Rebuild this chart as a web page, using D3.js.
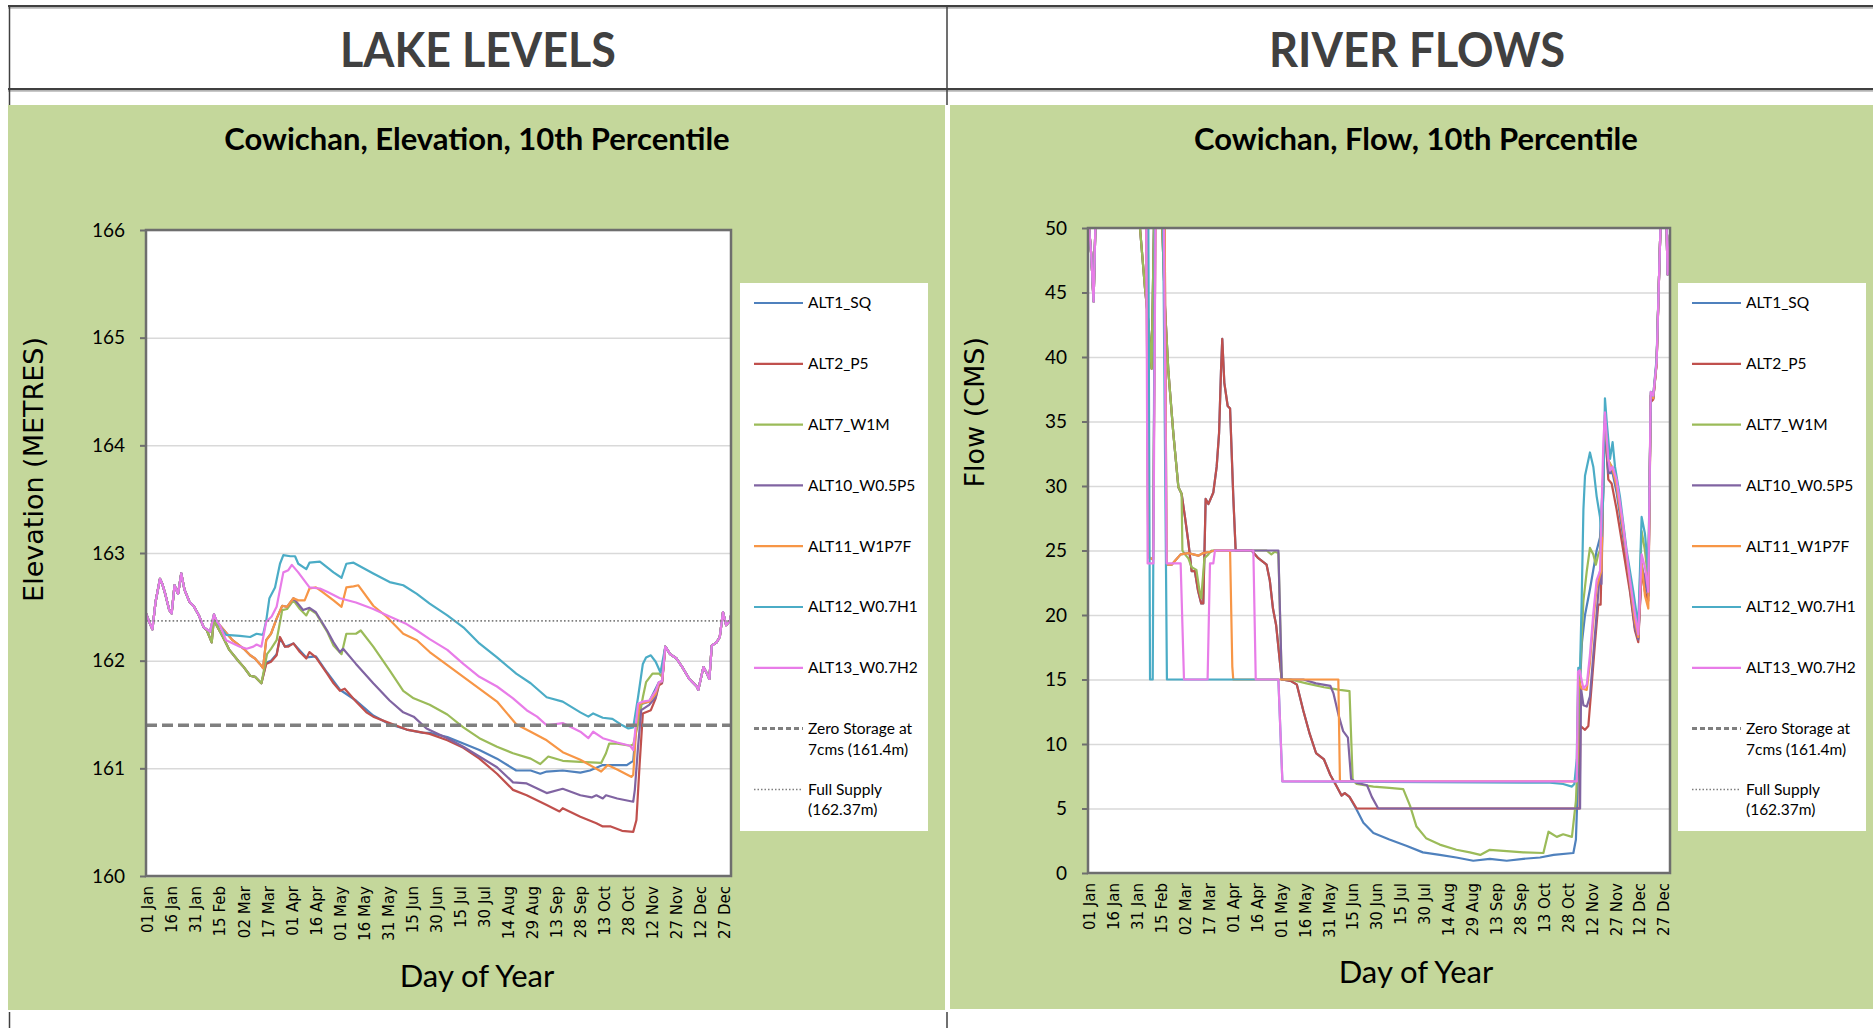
<!DOCTYPE html>
<html>
<head>
<meta charset="utf-8">
<script src="https://cdn.jsdelivr.net/npm/d3@7"></script>
<style>
  body { margin: 0; background: #fff; }
  svg { display: block; }
</style>
</head>
<body>
<div id="chart"></div>
<script>
const chart_width = 1873;
const chart_height = 1028;

// ------------------------------------------------------------------
// Data (day of year, value)
const seriesNames = ['ALT1_SQ', 'ALT2_P5', 'ALT7_W1M', 'ALT10_W0.5P5', 'ALT11_W1P7F', 'ALT12_W0.7H1', 'ALT13_W0.7H2'];
const seriesColors = ['#4f81bd', '#c0504d', '#9bbb59', '#8064a2', '#f79646', '#4bacc6', '#e87ce8'];

const dayTicks = [1, 16, 31, 46, 61, 76, 91, 106, 121, 136, 151, 166, 181, 196, 211, 226, 241, 256, 271, 286, 301, 316, 331, 346, 361];
const dateLabels = ['01 Jan', '16 Jan', '31 Jan', '15 Feb', '02 Mar', '17 Mar', '01 Apr', '16 Apr', '01 May', '16 May', '31 May', '15 Jun',
    '30 Jun', '15 Jul', '30 Jul', '14 Aug', '29 Aug', '13 Sep', '28 Sep', '13 Oct', '28 Oct', '12 Nov', '27 Nov', '12 Dec', '27 Dec'];

const lakeTicks = [160, 161, 162, 163, 164, 165, 166];
const flowTicks = [0, 5, 10, 15, 20, 25, 30, 35, 40, 45, 50];

const zeroStorage = 161.4;
const fullSupply = 162.37;

// lake elevation, shared start and end of the year
const lakeHead = [[0, 162.44], [2, 162.36], [4, 162.29], [6, 162.55], [8.7, 162.76], [10, 162.72], [12, 162.62], [14.5, 162.47], [16, 162.44],
    [17.8, 162.70], [20, 162.62], [22, 162.81], [24, 162.66], [27, 162.55], [30, 162.50], [33, 162.42], [36, 162.31]];
const lakeTail = [[324, 162.13], [327, 162.06], [331, 162.02], [335, 161.93], [339, 161.83], [343.6, 161.76], [344.6, 161.73], [347.8, 161.94],
    [350, 161.88], [351.5, 161.83], [353, 162.14], [356, 162.17], [358, 162.22], [360, 162.45], [362, 162.33], [364.4, 162.37], [365, 162.42]];

const lakeAlt1 = [[38, 162.28], [41, 162.17], [42.4, 162.40], [44, 162.33], [48, 162.22], [52, 162.10], [58, 161.99], [61, 161.94], [65, 161.86],
    [68, 161.85], [72, 161.79], [75, 161.98], [78, 162.00], [81.5, 162.06], [83.6, 162.21], [86.7, 162.13], [92, 162.16], [100, 162.03],
    [106, 162.04], [113, 161.89], [121, 161.73], [131, 161.63], [141.8, 161.49], [152, 161.41], [162.6, 161.36], [173, 161.33], [177, 161.33],
    [188, 161.29], [198, 161.23], [208, 161.17], [219, 161.09], [231, 160.98], [240, 160.98], [246, 160.95], [250, 160.97], [260, 160.98],
    [271, 160.96], [277, 160.98], [285, 161.03], [289, 161.03], [300, 161.03], [304, 161.07], [306, 161.41], [308, 161.59], [314, 161.62],
    [320, 161.80], [322, 161.81]];
const lakeAlt2 = [[38, 162.28], [41, 162.17], [42.4, 162.40], [44, 162.33], [48, 162.22], [52, 162.10], [58, 161.99], [61, 161.94], [65, 161.86],
    [68, 161.85], [72, 161.79], [75, 161.97], [78, 161.99], [81.5, 162.05], [83.6, 162.22], [86.7, 162.13], [88.8, 162.13], [92, 162.16],
    [96, 162.08], [100, 162.02], [102, 162.08], [106, 162.03], [113, 161.88], [117, 161.79], [121, 161.72], [124, 161.74], [131, 161.62],
    [137.5, 161.52], [141.8, 161.48], [152, 161.42], [162.6, 161.36], [177, 161.32], [188, 161.26], [198, 161.19], [208, 161.09],
    [219, 160.95], [229, 160.80], [237.5, 160.75], [250, 160.66], [258, 160.60], [260, 160.63], [271, 160.55], [281, 160.49], [285, 160.46],
    [290, 160.46], [297, 160.42], [304, 160.41], [306, 160.52], [308, 161.04], [310, 161.51], [315, 161.54], [318, 161.65], [320, 161.77],
    [322, 161.79]];
const lakeAlt7 = [[38, 162.28], [41, 162.17], [42.4, 162.40], [44, 162.33], [48, 162.22], [52, 162.10], [58, 161.99], [61, 161.94], [65, 161.86],
    [68, 161.85], [72, 161.79], [75.5, 162.06], [78, 162.11], [81.5, 162.19], [85, 162.47], [88, 162.48], [92, 162.56], [96, 162.48],
    [100, 162.42], [102, 162.48], [106, 162.44], [113, 162.27], [117, 162.14], [122, 162.06], [125, 162.25], [131, 162.25], [134, 162.28],
    [141.8, 162.13], [152, 161.91], [160.5, 161.72], [167, 161.65], [177, 161.59], [188, 161.50], [198, 161.38], [208, 161.28], [219, 161.20],
    [229, 161.14], [240, 161.09], [246, 161.04], [251, 161.11], [260, 161.07], [271, 161.06], [284, 161.05], [287, 161.14], [289, 161.23],
    [294, 161.23], [302, 161.21], [304, 161.22], [307, 161.41], [310, 161.66], [312, 161.80], [316, 161.88], [320, 161.88], [322, 161.85]];
const lakeAlt10 = [[38, 162.29], [40, 162.27], [42.4, 162.43], [44, 162.37], [46, 162.33], [54, 162.19], [61, 162.11], [65, 162.05], [68, 162.02],
    [71, 161.97], [73, 161.93], [75, 162.19], [78, 162.25], [81.5, 162.39], [85, 162.51], [88, 162.50], [92, 162.58], [98, 162.47],
    [102, 162.49], [106, 162.45], [113, 162.28], [117, 162.17], [121, 162.08], [123, 162.11], [131, 161.97], [141.8, 161.79], [152, 161.63],
    [160.5, 161.52], [167, 161.48], [175, 161.37], [188, 161.28], [198, 161.20], [208, 161.11], [219, 161.01], [229, 160.87], [237.5, 160.86],
    [250, 160.77], [260, 160.81], [271, 160.75], [278, 160.73], [281, 160.75], [285, 160.72], [287, 160.75], [294, 160.72], [304, 160.69],
    [305, 160.80], [307, 161.20], [309, 161.54], [314, 161.59], [318, 161.66], [320, 161.79], [322, 161.80]];
const lakeAlt11 = [[38, 162.29], [40, 162.27], [42.4, 162.43], [44, 162.37], [46, 162.33], [54, 162.19], [61, 162.11], [65, 162.05], [68, 162.02],
    [71, 161.97], [73, 161.93], [75, 162.19], [78, 162.25], [81.5, 162.39], [85, 162.51], [88, 162.50], [92, 162.58], [95, 162.56],
    [99, 162.56], [102, 162.67], [106, 162.68], [110, 162.64], [117, 162.56], [122, 162.50], [125, 162.68], [129.5, 162.69], [132.5, 162.70],
    [141.8, 162.51], [150, 162.41], [160.5, 162.25], [169, 162.19], [177, 162.08], [198, 161.85], [219, 161.62], [231, 161.41], [240, 161.34],
    [250, 161.26], [260, 161.15], [271, 161.08], [284, 160.97], [288, 161.03], [294, 160.99], [303, 160.92], [304, 160.94], [306, 161.41],
    [308, 161.60], [314, 161.62], [318, 161.69], [320, 161.79], [322, 161.81]];
const lakeAlt12 = [[38, 162.29], [40, 162.27], [42.4, 162.43], [44, 162.37], [47, 162.30], [50, 162.24], [58.6, 162.23], [65, 162.22],
    [69, 162.25], [73, 162.24], [75, 162.37], [77, 162.58], [80.5, 162.68], [83.6, 162.90], [85.7, 162.98], [90, 162.97], [93, 162.97],
    [95, 162.90], [100, 162.85], [102, 162.91], [108.5, 162.92], [117, 162.82], [122, 162.77], [125, 162.90], [129.5, 162.91], [141.8, 162.81],
    [152, 162.73], [160.5, 162.70], [169, 162.62], [177, 162.53], [188, 162.42], [198, 162.31], [208, 162.16], [219, 162.03], [231, 161.88],
    [240, 161.79], [250, 161.66], [260, 161.62], [271, 161.52], [276, 161.48], [279, 161.51], [285, 161.47], [291, 161.46], [296, 161.41],
    [301, 161.37], [304, 161.38], [307, 161.66], [310, 161.97], [312, 162.03], [315, 162.05], [318, 161.99], [321, 161.89]];
const lakeAlt13 = [[38, 162.29], [40, 162.27], [42.4, 162.43], [44, 162.37], [46, 162.33], [50, 162.19], [58.6, 162.13], [62.8, 162.11],
    [67, 162.13], [69, 162.15], [72, 162.13], [75, 162.36], [78.4, 162.41], [81.5, 162.50], [85.7, 162.82], [88.8, 162.84], [91, 162.89],
    [95, 162.82], [102, 162.68], [108.5, 162.67], [113, 162.64], [121, 162.58], [131, 162.54], [141.8, 162.48], [152, 162.41], [162.6, 162.34],
    [169, 162.28], [177, 162.20], [188, 162.10], [198, 161.97], [208, 161.85], [219, 161.76], [229, 161.65], [237.5, 161.54], [244, 161.48],
    [250, 161.40], [260, 161.42], [271, 161.34], [276, 161.28], [279, 161.34], [285, 161.28], [294, 161.24], [302, 161.21], [304, 161.17],
    [307, 161.60], [310, 161.62], [314, 161.63], [318, 161.72], [320, 161.80], [322, 161.81]];

// river flow, shared start and end of the year
const flowHead = [[0, 51], [2, 48], [3.5, 44.3], [5, 52], [8, 62], [20, 66], [30, 62]];
const flowTail = [[358.3, 47], [359.5, 52], [361, 60], [362.5, 52], [363.5, 46.4], [365, 49.5]];

const flowAlt1 = [[32.6, 50], [35.7, 45.4], [37.8, 42.8], [39.9, 39.1], [41.6, 52], [44, 62], [46, 52], [48.3, 43.8], [50.4, 38.9], [53.5, 34.1],
    [56.7, 29.9], [58.7, 29.4], [60.8, 27.6], [63, 25.6], [65, 23.4], [67, 23.4], [69, 21.9], [71, 20.9], [72.3, 20.9], [73.8, 29.0],
    [75.5, 28.6], [78.6, 29.5], [80.7, 31.5], [82.2, 34.1], [83.4, 38.9], [84.2, 41.4], [85.5, 38.0], [87.6, 36.2], [89.1, 36.0], [91.1, 29.2],
    [92.6, 25.0], [102.6, 25.0], [106.8, 24.4], [112, 23.9], [114, 22.7], [116, 20.5], [118, 19.2], [120.4, 16.3], [121.5, 15], [127, 14.9],
    [131, 14.6], [135, 12.6], [139, 10.8], [143, 9.3], [148, 8.8], [152, 7.6], [156, 6.7], [159, 6.0], [161, 6.2], [164, 5.9], [168.5, 4.9],
    [172.7, 3.9], [179, 3.1], [189, 2.6], [200, 2.1], [210, 1.6], [220.6, 1.4], [231, 1.2], [241.6, 0.95], [252, 1.1], [262.6, 0.95],
    [273, 1.1], [283.5, 1.2], [292, 1.4], [304.4, 1.55], [306, 2.6], [307, 6.2], [308.3, 14.0], [309.8, 17.9], [311.7, 20.0], [314.8, 22.0],
    [316.9, 23.5], [319, 25], [321.1, 26], [323.2, 31], [324.2, 35.0], [326.3, 31], [329, 31], [331.5, 29.5], [335.7, 26], [339.9, 22],
    [343, 19], [345.1, 18.2], [347.2, 24], [349.3, 22.5], [351.4, 21.5], [352.9, 37], [354.5, 36.8], [356.6, 39.6]];
const flowAlt2 = [[32.6, 50], [35.7, 45.4], [37.8, 42.8], [39.9, 39.1], [41.6, 52], [44, 62], [46, 52], [48.3, 43.8], [50.4, 38.9], [53.5, 34.1],
    [56.7, 29.9], [58.7, 29.4], [60.8, 27.6], [63, 25.6], [65, 23.4], [67, 23.4], [69, 21.9], [71, 20.9], [72.3, 20.9], [73.8, 29.0],
    [75.5, 28.6], [78.6, 29.5], [80.7, 31.5], [82.2, 34.1], [83.4, 38.9], [84.2, 41.4], [85.5, 38.0], [87.6, 36.2], [89.1, 36.0], [91.1, 29.2],
    [92.6, 25.0], [102.6, 25.0], [106.8, 24.4], [112, 23.9], [114, 22.7], [116, 20.5], [118, 19.2], [120.4, 16.3], [121.5, 15], [127, 14.9],
    [131, 14.6], [135, 12.6], [139, 10.8], [143, 9.3], [148, 8.8], [152, 7.6], [156, 6.7], [159, 6.0], [161, 6.2], [164, 5.9], [168.5, 5.0],
    [308.3, 5.0], [308.8, 11.4], [311.7, 11.1], [313.8, 11.4], [315.9, 14.6], [318, 17.9], [320, 20.8], [321.5, 20.8], [323.2, 30.2],
    [324.2, 35.0], [326.3, 30.5], [328.4, 30.2], [331.5, 28.2], [335.7, 25.0], [339.9, 21.8], [343, 18.8], [345.1, 17.9], [347.2, 23.4],
    [349.3, 21.8], [351.4, 21.1], [352.9, 36.5], [354.5, 36.7], [356.6, 39.5]];
const flowAlt7 = [[32.6, 50], [35.7, 45.4], [37.8, 42.8], [39.9, 39.1], [41.6, 52], [44, 62], [46, 52], [48.3, 43.8], [50.4, 38.9], [53.5, 34.1],
    [56.7, 29.9], [58.7, 29.4], [59.2, 25.0], [60.8, 24.7], [62.9, 24.4], [65, 23.7], [68, 23.5], [70, 21.8], [71, 21.3], [73, 24.4],
    [75.5, 24.7], [77.6, 25], [112, 25], [115, 24.7], [117, 24.9], [119.4, 24.8], [121.5, 15], [127, 15], [137, 14.7], [148, 14.4],
    [158, 14.2], [164, 14.1], [166, 7.2], [168.5, 6.9], [179, 6.7], [189, 6.6], [197.7, 6.5], [202, 5.2], [206, 3.6], [212, 2.7],
    [220.6, 2.2], [231, 1.8], [239.5, 1.6], [246, 1.4], [252, 1.8], [262.6, 1.7], [273, 1.6], [285.6, 1.55], [288.8, 3.2], [294, 2.8],
    [298, 3.0], [303.5, 2.8], [306, 5.6], [307.5, 10], [308.6, 15.6], [310.7, 21.1], [312.8, 23.4], [314.8, 25.2], [316.9, 24.7],
    [318.5, 23.9], [320, 24.7], [321.1, 25.0], [323.2, 30], [324.2, 35.5], [326.3, 32.0], [329, 31.4], [331.5, 30.2], [335.7, 26.8],
    [339.9, 22.6], [343, 20.0], [345.1, 18.6], [347.2, 26.5], [349.3, 25], [351.4, 22.5], [352.9, 37.2], [354.5, 37.0], [356.6, 39.7]];
const flowAlt10 = [[33, 60], [36.5, 52], [37.8, 24.5], [40.8, 24.3], [42.4, 52], [46, 62], [48, 52], [49.3, 23.9], [52.5, 23.9], [54.6, 24.2],
    [58.1, 24.7], [62.9, 24.8], [69.2, 24.6], [72.3, 24.8], [76.5, 24.9], [79.6, 25], [119.4, 25], [121.5, 15], [135, 15], [143, 14.7],
    [152, 14.5], [154, 13.9], [157, 12.3], [160, 11.0], [163, 10.5], [165, 7.3], [168.5, 7.0], [175, 6.8], [178, 5.9], [182, 5.0],
    [308.6, 5.0], [309.2, 14.3], [310.7, 13.0], [312.8, 12.9], [314.8, 13.7], [316.9, 16.9], [319, 20.1], [321.1, 23.4], [322, 22.4],
    [323.2, 30.5], [324.2, 35.0], [326.3, 31.0], [329, 31.2], [331.5, 29.8], [335.7, 26.5], [339.9, 22.4], [343, 19.0], [345.1, 18.1],
    [347.2, 23.5], [349.3, 23.0], [351.4, 21.5], [352.9, 37.0], [354.5, 36.8], [356.6, 39.5]];
const flowAlt11 = [[33, 60], [36.5, 52], [37.8, 24.5], [40.8, 24.3], [42.4, 52], [46, 62], [48, 52], [49.3, 23.9], [52.5, 23.9], [54.6, 24.2],
    [58.1, 24.7], [62.9, 24.8], [69.2, 24.6], [72.3, 24.8], [76.5, 24.9], [79.6, 25], [89.1, 25], [90.5, 16], [91.1, 15], [157, 15],
    [158, 7.1], [306.5, 7.1], [307.5, 15.0], [309.6, 14.3], [312.8, 14.2], [314.8, 16.3], [316.9, 19.5], [319, 22.1], [321.1, 23.1],
    [322, 23.4], [323.2, 32.0], [324.2, 35.0], [326.3, 32.0], [329, 31.3], [331.5, 30.0], [335.7, 26.5], [339.9, 22.5], [343, 19.5],
    [345.1, 18.3], [347.2, 24.0], [349.3, 21.5], [351.4, 20.5], [352.9, 37.0], [354.5, 36.8], [356.6, 39.5]];
const flowAlt12 = [[33, 60], [37.8, 52], [38.9, 15], [40.6, 15], [42, 52], [44, 62], [47, 52], [49.5, 15], [119.4, 15], [121.9, 7.1],
    [289.7, 7.0], [298, 6.9], [303.5, 6.7], [305, 6.9], [306.5, 8.8], [307.5, 15.9], [308.6, 15.9], [309.6, 21.1], [310.7, 28.2],
    [311.7, 30.8], [314.8, 32.6], [316.9, 31.5], [319, 29.2], [321.1, 27.6], [322, 26.1], [323.2, 29.5], [324.2, 36.8], [325.3, 35.0],
    [327.4, 32.1], [329, 33.4], [330.5, 31.5], [333.6, 29.2], [337.8, 25.0], [342, 21.8], [345.1, 19.2], [347.2, 27.6], [349.3, 26.3],
    [351.4, 23.4], [353, 37.3], [354.5, 37.0], [356.6, 39.9]];
const flowAlt13 = [[33, 60], [36.5, 52], [37.4, 24.0], [41, 24.0], [42.4, 52], [44, 62], [47.3, 55], [49.3, 24.0], [58.1, 24.0], [60.2, 15],
    [75, 15], [76.5, 24], [78.6, 24], [79.6, 25], [103.7, 25], [105.2, 15], [119.4, 15], [121.9, 7.1], [306.5, 7.1], [307.3, 15.6],
    [308.3, 15.7], [310.7, 14.3], [312.8, 14.6], [314.8, 16.9], [316.9, 20.1], [319, 22.7], [321.1, 23.4], [323.2, 33.4], [324.2, 35.7],
    [326.3, 32.1], [327.4, 31.2], [329, 31.5], [331.5, 30.5], [335.7, 26.9], [339.9, 22.7], [343, 20.1], [345.1, 18.5], [347.2, 24.7],
    [349.3, 23.7], [351.4, 21.8], [352.9, 37.3], [354.5, 37.0], [356.6, 39.6]];

const lakeSeries = [lakeAlt1, lakeAlt2, lakeAlt7, lakeAlt10, lakeAlt11, lakeAlt12, lakeAlt13]
    .map(s => lakeHead.concat(s, lakeTail));
const flowSeries = [flowAlt1, flowAlt2, flowAlt7, flowAlt10, flowAlt11, flowAlt12, flowAlt13]
    .map(s => flowHead.concat(s, flowTail));

//--------------------------------------------------------------------
// create svg element
const svg = d3.select('#chart')
    .append('svg')
    .attr('width', chart_width)
    .attr('height', chart_height);

// green panels and the table rules round them
svg.append('rect').attr('x', 8).attr('y', 105).attr('width', 937).attr('height', 905).attr('fill', '#c4d79b');
svg.append('rect').attr('x', 950).attr('y', 105).attr('width', 923).attr('height', 904).attr('fill', '#c4d79b');

svg.append('rect').attr('x', 8).attr('y', 5).attr('width', 1865).attr('height', 2.5).attr('fill', '#404040');
svg.append('rect').attr('x', 8).attr('y', 7.5).attr('width', 1865).attr('height', 1.5).attr('fill', '#c8c8c8');
svg.append('rect').attr('x', 8).attr('y', 88).attr('width', 1865).attr('height', 2.5).attr('fill', '#404040');
svg.append('rect').attr('x', 8).attr('y', 90.5).attr('width', 1865).attr('height', 1.5).attr('fill', '#c8c8c8');

[9.5, 947].forEach(x => {
    svg.append('line').attr('x1', x).attr('x2', x).attr('y1', 5).attr('y2', 105)
        .attr('stroke', '#404040').attr('stroke-width', 1.5);
    svg.append('line').attr('x1', x).attr('x2', x).attr('y1', 1012).attr('y2', 1028)
        .attr('stroke', '#404040').attr('stroke-width', 1.5);
});

svg.append('text').text('LAKE LEVELS')
    .attr('x', 478).attr('y', 67)
    .attr('text-anchor', 'middle')
    .attr('textLength', 276)
    .attr('lengthAdjust', 'spacingAndGlyphs')
    .style('font', 'bold 48px Lato')
    .attr('fill', '#404040');
svg.append('text').text('RIVER FLOWS')
    .attr('x', 1417).attr('y', 67)
    .attr('text-anchor', 'middle')
    .attr('textLength', 296)
    .attr('lengthAdjust', 'spacingAndGlyphs')
    .style('font', 'bold 48px Lato')
    .attr('fill', '#404040');

//--------------------------------------------------------------------
// one chart panel
function drawPanel(p) {
    const L = p.x.range()[0], R = p.x.range()[1];
    const B = p.y.range()[0], T = p.y.range()[1];
    const g = svg.append('g');

    g.append('rect')
        .attr('x', L).attr('y', T)
        .attr('width', R - L).attr('height', B - T)
        .attr('fill', '#fff');

    // gridlines
    g.append('g')
        .attr('transform', 'translate(' + L + ',0)')
        .call(d3.axisLeft(p.y).tickValues(p.yTicks).tickSize(-(R - L)).tickFormat(''))
        .call(a => a.select('.domain').remove())
        .selectAll('line')
        .attr('stroke', '#d9d9d9')
        .attr('stroke-width', 1.5);

    // series lines
    g.append('clipPath').attr('id', p.id)
        .append('rect')
        .attr('x', L).attr('y', T)
        .attr('width', R - L).attr('height', B - T);

    const line = d3.line()
        .x(d => p.x(d[0]))
        .y(d => p.y(d[1]));

    g.append('g').attr('clip-path', 'url(#' + p.id + ')')
        .selectAll('path')
        .data(p.series)
        .enter()
        .append('path')
        .attr('d', line)
        .attr('fill', 'none')
        .attr('stroke', (d, i) => seriesColors[i])
        .attr('stroke-width', 2.2)
        .attr('stroke-linejoin', 'round');

    // reference levels
    if (p.refs) {
        g.append('line')
            .attr('x1', L).attr('x2', R)
            .attr('y1', p.y(zeroStorage)).attr('y2', p.y(zeroStorage))
            .attr('stroke', '#7f7f7f').attr('stroke-width', 3.3)
            .attr('stroke-dasharray', '11 5');
        g.append('line')
            .attr('x1', L).attr('x2', R)
            .attr('y1', p.y(fullSupply)).attr('y2', p.y(fullSupply))
            .attr('stroke', '#7f7f7f').attr('stroke-width', 1.6)
            .attr('stroke-dasharray', '1.6 2.2');
    }

    // plot border
    g.append('rect')
        .attr('x', L).attr('y', T)
        .attr('width', R - L).attr('height', B - T)
        .attr('fill', 'none')
        .attr('stroke', '#6e6e6e')
        .attr('stroke-width', 2.5);

    // y axis
    g.append('g')
        .attr('transform', 'translate(' + L + ',0)')
        .call(d3.axisLeft(p.y).tickValues(p.yTicks).tickSize(6).tickPadding(15).tickFormat(d3.format('d')))
        .call(a => a.select('.domain').remove())
        .call(a => a.selectAll('line').attr('stroke', '#6e6e6e').attr('stroke-width', 2))
        .selectAll('text')
        .style('font', '19px Lato')
        .attr('fill', '#000');

    // x axis
    g.append('g')
        .attr('transform', 'translate(0,' + B + ')')
        .call(d3.axisBottom(p.x).tickValues(dayTicks).tickSize(0).tickFormat((d, i) => dateLabels[i]))
        .call(a => a.select('.domain').remove())
        .selectAll('text')
        .attr('transform', 'rotate(-90)')
        .attr('x', -10)
        .attr('y', 0)
        .attr('dy', '0.35em')
        .style('text-anchor', 'end')
        .style('font', '15px "DejaVu Sans"')
        .attr('fill', '#000');

    // titles
    g.append('text').text(p.title)
        .attr('x', p.cx).attr('y', 150)
        .attr('text-anchor', 'middle')
        .style('font', 'bold 31px Lato')
        .attr('fill', '#000');

    g.append('text').text(p.yTitle)
        .attr('transform', 'translate(' + p.yTitleX + ',337) rotate(-90)')
        .attr('text-anchor', 'end')
        .attr('dy', '0.35em')
        .style('font', '27px "DejaVu Sans"')
        .attr('fill', '#000');

    g.append('text').text('Day of Year')
        .attr('x', p.cx).attr('y', p.xTitleY)
        .attr('text-anchor', 'middle')
        .style('font', '31px Lato')
        .attr('fill', '#000');

    // legend
    const lg = g.append('g').attr('transform', 'translate(' + p.legendX + ',283)');
    lg.append('rect')
        .attr('width', 188).attr('height', 548)
        .attr('fill', '#fff');

    const rowY = i => 20 + i * 60.8;
    seriesNames.forEach((name, i) => {
        lg.append('line')
            .attr('x1', 14).attr('x2', 63)
            .attr('y1', rowY(i)).attr('y2', rowY(i))
            .attr('stroke', seriesColors[i]).attr('stroke-width', 2.2);
        lg.append('text').text(name)
            .attr('x', 68).attr('y', rowY(i))
            .attr('dy', '0.35em')
            .style('font', '15.5px Lato')
            .attr('fill', '#000');
    });

    const extra = [
        {lines: ['Zero Storage at', '7cms (161.4m)'], dash: '5 3', w: 3},
        {lines: ['Full Supply', '(162.37m)'], dash: '1.5 2', w: 1.5}
    ];
    extra.forEach((e, k) => {
        const y0 = rowY(7 + k);
        lg.append('line')
            .attr('x1', 14).attr('x2', 63)
            .attr('y1', y0).attr('y2', y0)
            .attr('stroke', '#7f7f7f').attr('stroke-width', e.w)
            .attr('stroke-dasharray', e.dash);
        e.lines.forEach((t, j) => {
            lg.append('text').text(t)
                .attr('x', 68).attr('y', y0 + j * 20.5)
                .attr('dy', '0.35em')
                .style('font', '15.5px Lato')
                .attr('fill', '#000');
        });
    });
}

//--------------------------------------------------------------------
// Create Scales
const lake_x = d3.scaleLinear().domain([0, 365]).range([146, 731]);
const lake_y = d3.scaleLinear().domain([160, 166]).range([876, 230]);
const flow_x = d3.scaleLinear().domain([0, 365]).range([1088, 1670]);
const flow_y = d3.scaleLinear().domain([0, 50]).range([873, 228]);

drawPanel({
    id: 'clip-lake',
    x: lake_x, y: lake_y, yTicks: lakeTicks,
    series: lakeSeries, refs: true,
    title: 'Cowichan, Elevation, 10th Percentile',
    yTitle: 'Elevation (METRES)', yTitleX: 34,
    cx: 477, xTitleY: 987,
    legendX: 740
});

drawPanel({
    id: 'clip-flow',
    x: flow_x, y: flow_y, yTicks: flowTicks,
    series: flowSeries, refs: false,
    title: 'Cowichan, Flow, 10th Percentile',
    yTitle: 'Flow (CMS)', yTitleX: 975,
    cx: 1416, xTitleY: 983,
    legendX: 1678
});
</script>
</body>
</html>
